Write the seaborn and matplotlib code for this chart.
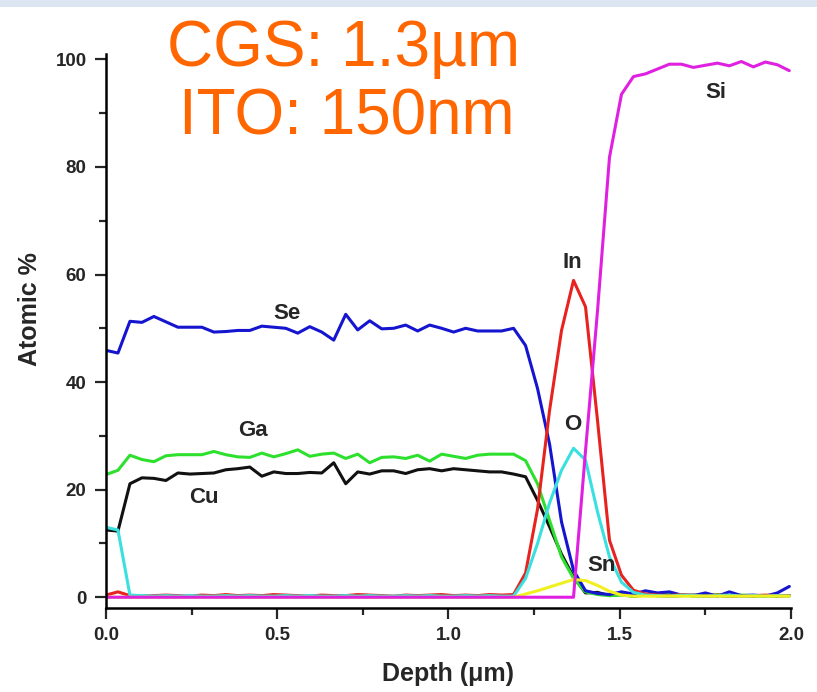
import pandas as pd
import numpy as np
import matplotlib
matplotlib.use('Agg')
import matplotlib.pyplot as plt
from matplotlib.patches import Rectangle
from matplotlib.ticker import MultipleLocator
import seaborn as sns

# depth points (um)
depth = [0.0, 0.035, 0.07, 0.105, 0.14, 0.175, 0.21, 0.245, 0.28, 0.315,
         0.35, 0.385, 0.42, 0.455, 0.49, 0.525, 0.56, 0.595, 0.63, 0.665,
         0.7, 0.735, 0.77, 0.805, 0.84, 0.875, 0.91, 0.945, 0.98, 1.015,
         1.05, 1.085, 1.12, 1.155, 1.19, 1.225, 1.26, 1.295, 1.33, 1.365,
         1.4, 1.435, 1.47, 1.505, 1.54, 1.575, 1.61, 1.645, 1.68, 1.715,
         1.75, 1.785, 1.82, 1.855, 1.89, 1.925, 1.96, 1.995]

se = [45.9, 45.4, 51.3, 51.1, 52.2, 51.2, 50.2, 50.2, 50.2, 49.3,
      49.4, 49.6, 49.6, 50.4, 50.2, 50.0, 49.1, 50.3, 49.3, 47.8,
      52.6, 49.7, 51.4, 49.9, 50.0, 50.6, 49.5, 50.6, 50.0, 49.3,
      50.0, 49.5, 49.5, 49.5, 50.0, 46.8, 38.8, 28.5, 14.0, 5.0,
      1.2, 0.7, 0.5, 1.0, 0.6, 1.2, 0.8, 1.0, 0.4, 0.3,
      0.8, 0.2, 1.0, 0.3, 0.4, 0.2, 0.8, 2.0]

ga = [22.8, 23.6, 26.4, 25.6, 25.2, 26.3, 26.5, 26.5, 26.5, 27.1,
      26.5, 26.1, 26.0, 26.8, 26.1, 26.7, 27.4, 26.2, 26.6, 26.8,
      25.8, 26.6, 25.0, 26.0, 26.1, 25.8, 26.4, 25.3, 26.6, 26.2,
      25.8, 26.4, 26.6, 26.6, 26.6, 25.4, 21.1, 14.3, 7.5, 3.5,
      1.0, 0.5, 0.3, 0.4, 0.2, 0.5, 0.3, 0.7, 0.4, 0.2,
      0.3, 0.5, 0.2, 0.4, 0.3, 0.2, 0.3, 0.3]

cu = [12.5, 12.3, 21.1, 22.2, 22.1, 21.7, 23.1, 22.9, 23.0, 23.1,
      23.7, 23.9, 24.2, 22.5, 23.3, 23.0, 23.0, 23.2, 23.1, 25.0,
      21.1, 23.3, 22.9, 23.5, 23.5, 23.0, 23.7, 23.9, 23.5, 23.9,
      23.7, 23.5, 23.3, 23.3, 22.9, 22.4, 18.0, 13.1, 8.0, 3.8,
      0.8, 0.9, 0.3, 0.5, 0.2, 0.4, 0.3, 0.2, 0.3, 0.4,
      0.2, 0.3, 0.2, 0.3, 0.2, 0.3, 0.2, 0.3]

indium = [0.4, 1.0, 0.3, 0.2, 0.3, 0.4, 0.3, 0.2, 0.4, 0.3,
          0.5, 0.3, 0.4, 0.3, 0.5, 0.4, 0.3, 0.2, 0.4, 0.3,
          0.3, 0.5, 0.4, 0.3, 0.2, 0.4, 0.3, 0.4, 0.5, 0.3,
          0.4, 0.3, 0.5, 0.4, 0.5, 4.5, 16.4, 34.7, 49.6, 58.9,
          54.0, 32.9, 10.6, 4.1, 1.3, 0.6, 0.4, 0.3, 0.5, 0.3,
          0.2, 0.4, 0.3, 0.2, 0.3, 0.4, 0.3, 0.3]

oxy = [13.0, 12.5, 0.4, 0.3, 0.2, 0.3, 0.2, 0.3, 0.2, 0.2,
       0.3, 0.2, 0.3, 0.2, 0.2, 0.3, 0.2, 0.3, 0.2, 0.2,
       0.3, 0.2, 0.3, 0.2, 0.2, 0.3, 0.2, 0.3, 0.2, 0.2,
       0.3, 0.2, 0.3, 0.2, 0.2, 3.5, 10.0, 17.5, 23.6, 27.7,
       25.5, 15.9, 7.5, 2.8, 0.9, 0.4, 0.3, 0.2, 0.4, 0.3,
       0.2, 0.3, 0.4, 0.2, 0.3, 0.2, 0.3, 0.2]

sn = [0.0, 0.0, 0.0, 0.0, 0.0, 0.0, 0.0, 0.0, 0.0, 0.0,
      0.0, 0.0, 0.0, 0.0, 0.0, 0.0, 0.0, 0.0, 0.0, 0.0,
      0.0, 0.0, 0.0, 0.0, 0.0, 0.0, 0.0, 0.0, 0.0, 0.0,
      0.0, 0.0, 0.0, 0.0, 0.0, 0.6, 1.2, 1.9, 2.6, 3.3,
      3.1, 2.2, 1.1, 0.4, 0.2, 0.2, 0.2, 0.2, 0.2, 0.2,
      0.2, 0.2, 0.2, 0.2, 0.2, 0.2, 0.2, 0.2]

si = [0.0, 0.0, 0.0, 0.0, 0.0, 0.0, 0.0, 0.0, 0.0, 0.0,
      0.0, 0.0, 0.0, 0.0, 0.0, 0.0, 0.0, 0.0, 0.0, 0.0,
      0.0, 0.0, 0.0, 0.0, 0.0, 0.0, 0.0, 0.0, 0.0, 0.0,
      0.0, 0.0, 0.0, 0.0, 0.0, 0.0, 0.0, 0.0, 0.0, 0.0,
      27.2, 53.2, 81.8, 93.5, 96.8, 97.3, 98.2, 99.1, 99.1, 98.5,
      98.9, 99.3, 98.8, 99.6, 98.6, 99.5, 99.0, 97.9]

elements = ['Cu', 'Ga', 'Se', 'In', 'O', 'Sn', 'Si']
series = [cu, ga, se, indium, oxy, sn, si]
cores = {'Cu': '#111111', 'Ga': '#2ee02e', 'Se': '#1515d0', 'In': '#e8231f',
         'O': '#3ae0e0', 'Sn': '#f0f020', 'Si': '#e020e0'}

# rotulos dentro do grafico
label_txt = ['Se', 'Ga', 'Cu', 'In', 'O', 'Sn', 'Si']
label_x = [0.527, 0.43, 0.287, 1.362, 1.362, 1.447, 1.78]
label_y = [52.8, 31.0, 18.6, 62.3, 32.2, 5.9, 93.9]

df = pd.concat([pd.DataFrame({'depth': depth, 'atomic': vals, 'elem': el})
                for el, vals in zip(elements, series)], ignore_index=True)
# %%

sns.set_style('white')
plt.rcParams['font.family'] = ['Liberation Sans', 'DejaVu Sans']

fig = plt.figure(figsize=(8.17, 6.92), dpi=100)
fig.patches.append(Rectangle((0, 1 - 7 / 692), 1, 7 / 692, transform=fig.transFigure,
                             facecolor='#dce6f2', edgecolor='none'))

ax = fig.add_axes([0.1297, 0.1214, 0.8385, 0.8006])
sns.lineplot(data=df, x='depth', y='atomic', hue='elem', hue_order=elements,
             palette=cores, linewidth=2.2, legend=False, ax=ax)

for t, x, y in zip(label_txt, label_x, label_y):
    ax.text(x, y, t, fontsize=16, fontweight='bold', ha='center', va='center')

ax.set_xlim(0, 2.0)
ax.set_ylim(-2, 101)
ax.xaxis.set_major_locator(MultipleLocator(0.5))
ax.xaxis.set_minor_locator(MultipleLocator(0.25))
ax.yaxis.set_major_locator(MultipleLocator(20))
ax.yaxis.set_minor_locator(MultipleLocator(10))
ax.tick_params(which='both', direction='out', width=1.6, bottom=True, left=True)
ax.tick_params(which='major', length=8, labelsize=13.5, pad=6)
ax.tick_params(which='minor', length=5)
for lab in ax.get_xticklabels() + ax.get_yticklabels():
    lab.set_fontweight('bold')
ax.xaxis.set_major_formatter(matplotlib.ticker.FormatStrFormatter('%.1f'))

for s in ['top', 'right']:
    ax.spines[s].set_visible(False)
for s in ['left', 'bottom']:
    ax.spines[s].set_linewidth(1.8)
    ax.spines[s].set_color('black')

ax.set_xlabel('Depth (\u03bcm)', fontsize=18, fontweight='bold')
ax.set_ylabel('Atomic %', fontsize=18, fontweight='bold')
ax.xaxis.set_label_coords(0.5, -0.098)
ax.yaxis.set_label_coords(-0.093, 0.54)

fig.text(0.42, 0.905, 'CGS: 1.3\u00b5m', color='#ff6600', fontsize=46,
         ha='center', va='baseline')
fig.text(0.424, 0.806, 'ITO: 150nm', color='#ff6600', fontsize=46,
         ha='center', va='baseline')

fig.savefig('out.png', dpi=100)
